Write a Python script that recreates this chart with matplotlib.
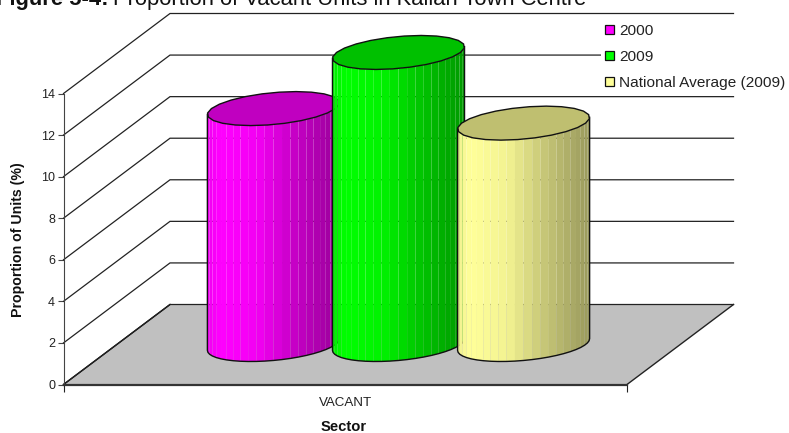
import numpy as np
import matplotlib
matplotlib.use("Agg")
import matplotlib.pyplot as plt
from matplotlib.patches import Polygon, Patch
from matplotlib.colors import to_rgb

plt.rcParams["font.family"] = ["Liberation Sans", "DejaVu Sans"]

# Chart values
categories = ["VACANT"]
series_names = ["2000", "2009", "National Average (2009)"]
series_values = [11.35, 14.05, 10.65]
side_colors = ["#FF00FF", "#00FF00", "#FFFF99"]
top_colors = ["#C000C0", "#00C000", "#BFBF70"]
y_ticks = [0, 2, 4, 6, 8, 10, 12, 14]

W, H = 789, 433
fig = plt.figure(figsize=(W / 100, H / 100), dpi=100)
fig.patch.set_facecolor("white")

# Front plane of the oblique 3-D box
left_px, right_px, base_px, top_px = 63.5, 627.0, 384.5, 93.5
ax = fig.add_axes([left_px / W, 1 - base_px / H,
                   (right_px - left_px) / W, (base_px - top_px) / H])
ax.set_xlim(0, 1)
ax.set_ylim(0, 14)
ax.patch.set_alpha(0)

x_per_px = 1 / (right_px - left_px)
y_per_px = 14 / (base_px - top_px)
depth_x = 106.5 * x_per_px
depth_y = 80.0 * y_per_px

# Floor and back-wall gridlines
floor = Polygon([(0, 0), (1, 0), (1 + depth_x, depth_y), (depth_x, depth_y)],
                closed=True, facecolor="#C0C0C0", edgecolor="none",
                clip_on=False, zorder=1)
ax.add_patch(floor)
ax.plot([0, depth_x], [0, depth_y], color="black", lw=1, clip_on=False, zorder=2)
ax.plot([1, 1 + depth_x], [0, depth_y], color="#222222", lw=1, clip_on=False, zorder=2)
for v in y_ticks:
    ax.plot([0, depth_x, 1 + depth_x], [v, v + depth_y, v + depth_y],
            color="#222222", lw=0.9, clip_on=False, zorder=2,
            solid_joinstyle="miter")

# Cylinders, drawn left to right so that each one overlaps the previous
radius_x = 62.0 * x_per_px
shear_x = 22.7 * x_per_px
shear_y = 17.0 * y_per_px
offsets = [-0.222, 0.0, 0.222]
start = np.arctan2(shear_x / x_per_px, radius_x / x_per_px) + np.pi
angles = start + np.linspace(0, np.pi, 25)


def rim(cx, cy, t):
    return (cx + radius_x * np.cos(t) + shear_x * np.sin(t),
            cy + shear_y * np.sin(t))


def shade(u):
    return np.interp(u, [0, 0.10, 0.38, 0.65, 1.0], [0.94, 1.0, 0.95, 0.78, 0.60])


for i, (value, side, top) in enumerate(zip(series_values, side_colors, top_colors)):
    z = 10 + i * 3
    cx = 0.5 + offsets[i] + depth_x / 2
    cy0 = depth_y / 2
    cy1 = value + depth_y / 2
    xs, ys = rim(cx, cy0, angles)
    xmin, xmax = xs.min(), xs.max()
    rgb = np.array(to_rgb(side))
    for k in range(len(angles) - 1):
        u = ((xs[k] + xs[k + 1]) / 2 - xmin) / (xmax - xmin)
        ax.add_patch(Polygon(
            [(xs[k], ys[k]), (xs[k + 1], ys[k + 1]),
             (xs[k + 1], ys[k + 1] + value), (xs[k], ys[k] + value)],
            closed=True, facecolor=tuple(rgb * shade(u)), edgecolor="none",
            lw=0, antialiased=True, clip_on=False, zorder=z))
    ax.plot(np.r_[xs[0], xs, xs[-1]],
            np.r_[ys[0] + value, ys, ys[-1] + value],
            color="#111111", lw=1, clip_on=False, zorder=z + 1)
    full = np.linspace(0, 2 * np.pi, 25)
    ex, ey = rim(cx, cy1, full)
    ax.add_patch(Polygon(np.c_[ex, ey], closed=True, facecolor=top,
                         edgecolor="#111111", lw=1, clip_on=False, zorder=z + 2))

# Axes furniture
for name in ("top", "right"):
    ax.spines[name].set_visible(False)
ax.spines["left"].set_color("#444444")
ax.spines["bottom"].set_color("#333333")
ax.spines["bottom"].set_linewidth(1.6)
ax.spines["bottom"].set_zorder(3)
ax.set_yticks(y_ticks)
ax.tick_params(axis="y", length=4, width=0.8, color="#444444",
               labelsize=9, pad=2, labelcolor="#222222")
ax.set_xticks([0, 1])
ax.set_xticklabels([])
ax.tick_params(axis="x", length=5, width=0.8, color="#222222")
ax.text(0.5, -18 * y_per_px, categories[0], ha="center", va="center",
        fontsize=9.6, color="#222222", clip_on=False)

ax.text(0.498, -42.5 * y_per_px, "Sector", ha="center", va="center",
        fontsize=10.6, fontweight="bold", color="#111111", clip_on=False)
fig.text(18 / W, 1 - 240 / H, "Proportion of Units (%)", rotation=90,
         ha="center", va="center", fontsize=10.2, fontweight="bold", color="#111111")

# Heading, running off the top edge of the figure
heading = fig.text(-4 / W, 1 - 4.5 / H, "Figure 5-4:", ha="left", va="baseline",
                   fontsize=15.8, fontweight="bold", color="#111111")
fig.canvas.draw()
bb = heading.get_window_extent()
fig.text((bb.x1 + 5) / W, 1 - 4.5 / H, "Proportion of Vacant Units in Kallan Town Centre",
         ha="left", va="baseline", fontsize=15.8, color="#111111")

# Legend with an opaque background that interrupts the gridlines
handles = [Patch(facecolor=c, edgecolor="#111111", lw=0.9) for c in side_colors]
leg = ax.legend(handles, series_names, loc="upper left",
                bbox_to_anchor=(600.5 / W, 1 - 19.5 / H), bbox_transform=fig.transFigure,
                frameon=True, framealpha=1, facecolor="white", edgecolor="none",
                fancybox=False, fontsize=11.1, labelcolor="#222222",
                handlelength=0.58, handleheight=0.58, handletextpad=0.32,
                labelspacing=0.78, borderpad=0.29, borderaxespad=0)
leg.set_zorder(8)

fig.savefig("out.png", dpi=100, facecolor="white")
